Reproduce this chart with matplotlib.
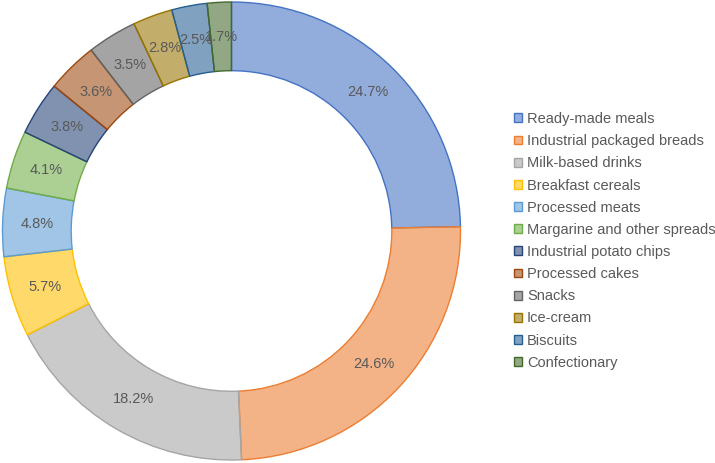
import matplotlib
matplotlib.use("Agg")
import matplotlib.pyplot as plt
from matplotlib.colors import to_rgba
from matplotlib.patches import Patch

categories = ["Ready-made meals", "Industrial packaged breads", "Milk-based drinks",
              "Breakfast cereals", "Processed meats", "Margarine and other spreads",
              "Industrial potato chips", "Processed cakes", "Snacks", "Ice-cream",
              "Biscuits", "Confectionary"]
shares = [24.7, 24.6, 18.2, 5.7, 4.8, 4.1, 3.8, 3.6, 3.5, 2.8, 2.5, 1.7]
base_colors = ["#4472C4", "#ED7D31", "#A5A5A5", "#FFC000", "#5B9BD5", "#70AD47",
               "#264478", "#9E480E", "#636363", "#997300", "#255E91", "#43682B"]

plt.rcParams['font.family'] = ['Liberation Sans', 'DejaVu Sans']

W, H = 715, 463
fig = plt.figure(figsize=(W / 100, H / 100), dpi=100)

cx, cy, r = 231.5, 231, 229
ax = fig.add_axes([(cx - r) / W, (H - cy - r) / H, 2 * r / W, 2 * r / H])

face = [to_rgba(c, 0.58) for c in base_colors]
wedges, texts, autotexts = ax.pie(
    shares, colors=face, startangle=90, counterclock=False, radius=1,
    autopct=lambda p: f"{p:.1f}%", pctdistance=0.85,
    wedgeprops=dict(width=0.30, linewidth=1.0),
    textprops=dict(fontsize=10.5, color="#595959"))
for w, c in zip(wedges, base_colors):
    w.set_edgecolor(c)
ax.set_xlim(-1, 1)
ax.set_ylim(-1, 1)
ax.set_aspect("equal")
ax.axis("off")

handles = [Patch(facecolor=f, edgecolor=c, linewidth=1.0) for f, c in zip(face, base_colors)]
fig.legend(handles, categories, loc="upper left", bbox_to_anchor=(514 / W, 1 - 112 / H),
           frameon=False, fontsize=10.5, labelcolor="#595959",
           handlelength=0.55, handleheight=0.55, handletextpad=0.35,
           labelspacing=0.56, borderpad=0, borderaxespad=0)

fig.savefig("out.png", dpi=100)
